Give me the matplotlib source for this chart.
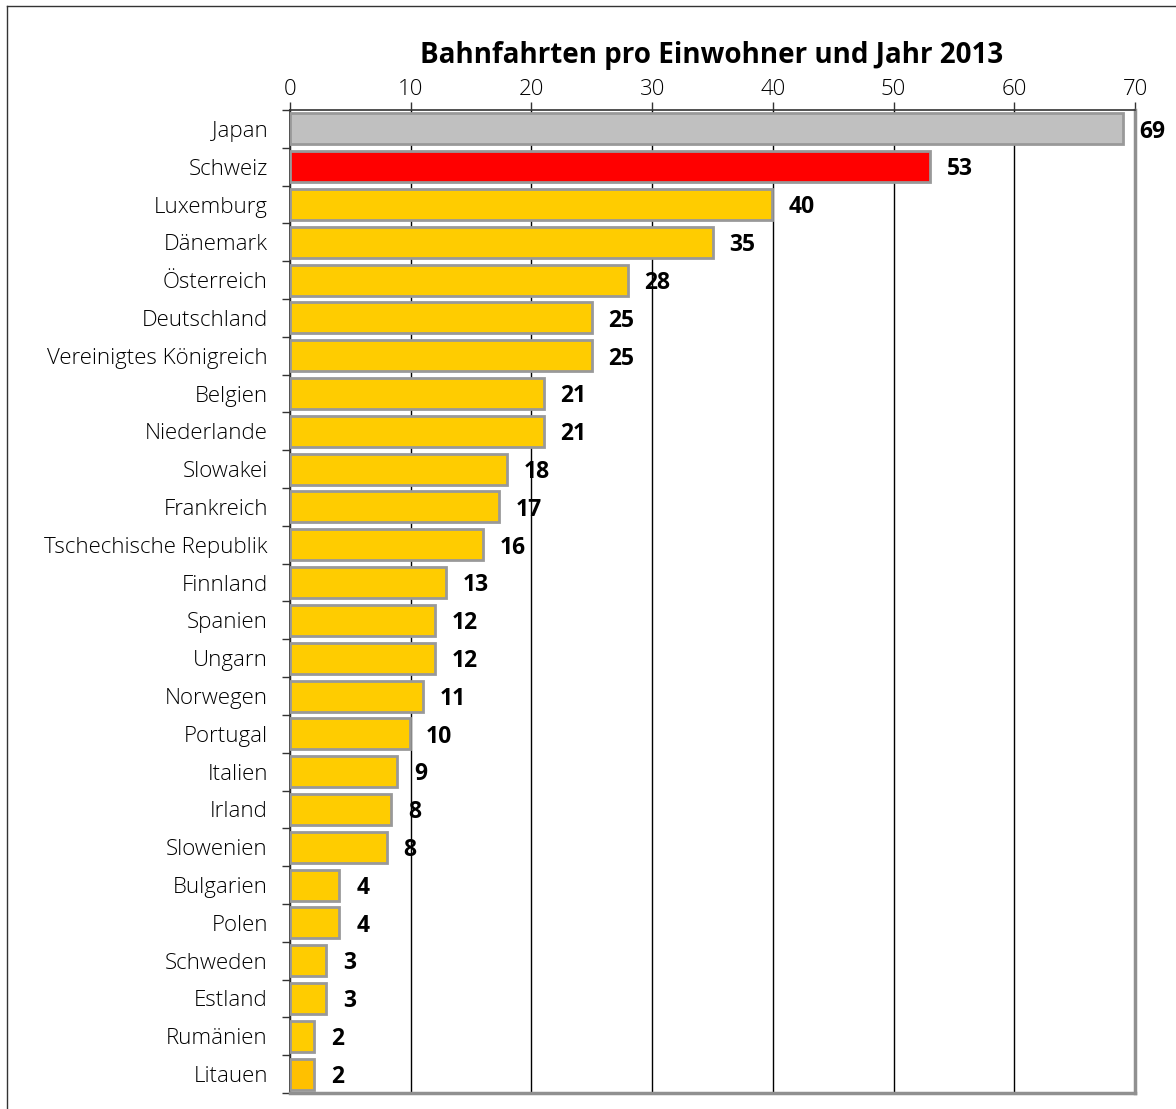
import matplotlib
matplotlib.use('Agg')
import matplotlib.pyplot as plt
from matplotlib.lines import Line2D

plt.rcParams['font.family'] = ['Open Sans', 'DejaVu Sans']

# Daten
laender = ['Japan', 'Schweiz', 'Luxemburg', 'Dänemark', 'Österreich', 'Deutschland',
           'Vereinigtes Königreich', 'Belgien', 'Niederlande', 'Slowakei', 'Frankreich',
           'Tschechische Republik', 'Finnland', 'Spanien', 'Ungarn', 'Norwegen',
           'Portugal', 'Italien', 'Irland', 'Slowenien', 'Bulgarien', 'Polen',
           'Schweden', 'Estland', 'Rumänien', 'Litauen']
fahrten = [69.0, 53.0, 39.9, 35.0, 28.0, 25.0, 25.0, 21.0, 21.0, 18.0, 17.3,
           16.0, 12.9, 12.0, 12.0, 11.0, 9.9, 8.9, 8.4, 8.0, 4.1, 4.1,
           3.0, 3.0, 2.0, 2.0]
farben = ['#C0C0C0', '#FF0000'] + ['#FFCC00'] * 23 + ['#FFC000']
x_ticks = [0, 10, 20, 30, 40, 50, 60, 70]

fig = plt.figure(figsize=(11.76, 11.09), dpi=100)
ax = fig.add_axes([290 / 1176, 1 - 1093 / 1109, 845 / 1176, 983 / 1109])

y = list(range(len(laender)))
ax.barh(y, fahrten, height=0.82, color=farben, edgecolor='#999999', linewidth=2, zorder=3)

# Werte rechts neben den Balken
for yi, v in zip(y, fahrten):
    ax.annotate(f'{v:.0f}', (v, yi), xytext=(12, -2), textcoords='offset points',
                ha='left', va='center', fontsize=16.5, fontweight='bold', annotation_clip=False,
                zorder=4)

ax.set_xlim(0, 70)
ax.set_ylim(len(laender) - 0.5, -0.5)
ax.set_xticks(x_ticks)
ax.xaxis.tick_top()
ax.tick_params(axis='x', direction='out', length=6, width=1, labelsize=16, pad=1, color='#333333')
ax.set_yticks(y)
ax.set_yticklabels(laender)
ax.tick_params(axis='y', which='major', length=0, labelsize=16, pad=16)
ax.set_yticks([i - 0.5 for i in range(len(laender) + 1)], minor=True)
ax.tick_params(axis='y', which='minor', direction='out', length=6, width=1, color='#333333')
for lbl in ax.get_xticklabels() + ax.get_yticklabels():
    lbl.set_fontweight('light')

ax.grid(axis='x', color='black', linewidth=1, zorder=1)
ax.spines['left'].set_color('#333333')
ax.spines['top'].set_color('#333333')
ax.spines['right'].set_color('#909090')
ax.spines['bottom'].set_color('#909090')
ax.spines['right'].set_linewidth(2.5)
ax.spines['bottom'].set_linewidth(2.5)
ax.spines['left'].set_linewidth(1.2)
ax.spines['top'].set_linewidth(1.2)

fig.text(712 / 1176, 1 - 55 / 1109, 'Bahnfahrten pro Einwohner und Jahr 2013',
         ha='center', va='center', fontsize=20, fontweight='bold')

# Rahmen
fig.add_artist(Line2D([7 / 1176, 7 / 1176], [0, 1 - 6 / 1109], color='#333333', linewidth=1))
fig.add_artist(Line2D([7 / 1176, 1], [1 - 6 / 1109, 1 - 6 / 1109], color='#333333', linewidth=1))

fig.savefig('out.png', dpi=100)
